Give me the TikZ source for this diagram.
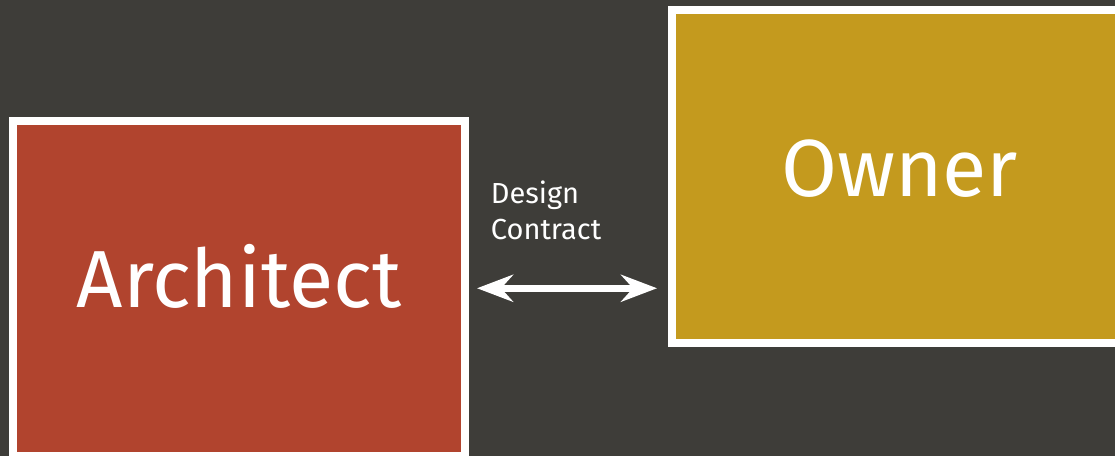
\documentclass[tikz,border=0pt]{standalone}
\usepackage{fontspec}
\setmainfont{Fira Sans}
\usetikzlibrary{arrows.meta}
\definecolor{bg}{HTML}{3E3D39}
\definecolor{archred}{HTML}{B1442E}
\definecolor{ownergold}{HTML}{C49A1E}
\tikzset{
  boxstyle/.style={draw=white, line width=8pt, inner sep=0pt},
  bigtext/.style={text=white, inner sep=0pt, font=\fontsize{81}{90}\selectfont},
  smalltext/.style={text=white, inner sep=0pt, align=left, font=\fontsize{29}{36}\selectfont},
  conn/.style={draw=white, line width=7pt,
    {Stealth[length=36pt,width=27pt,inset=12pt]}-{Stealth[length=36pt,width=27pt,inset=12pt]},
    shorten <=8pt, shorten >=11pt}
}
\begin{document}
\begin{tikzpicture}[x=1pt,y=-1pt]
\fill[bg] (0,0) rectangle (1115,456);
\useasboundingbox (0,0) rectangle (1115,456);
\node[boxstyle, fill=archred, minimum width=451.7pt, minimum height=334.5pt] (arch) at (239.2,288.25) {};
\node[boxstyle, fill=ownergold, minimum width=453pt, minimum height=333.5pt] (owner) at (898.5,176.25) {};
\node[bigtext, anchor=base] (archtxt) at (239,307.3) {Architect};
\node[bigtext, anchor=base] (ownertxt) at (899.5,196) {Owner};
\node[smalltext, anchor=north west] (lbl) at (490.7,180.3) {Design\\Contract};
\draw[conn] (arch.east) -- (arch.east -| owner.west);
\end{tikzpicture}
\end{document}
